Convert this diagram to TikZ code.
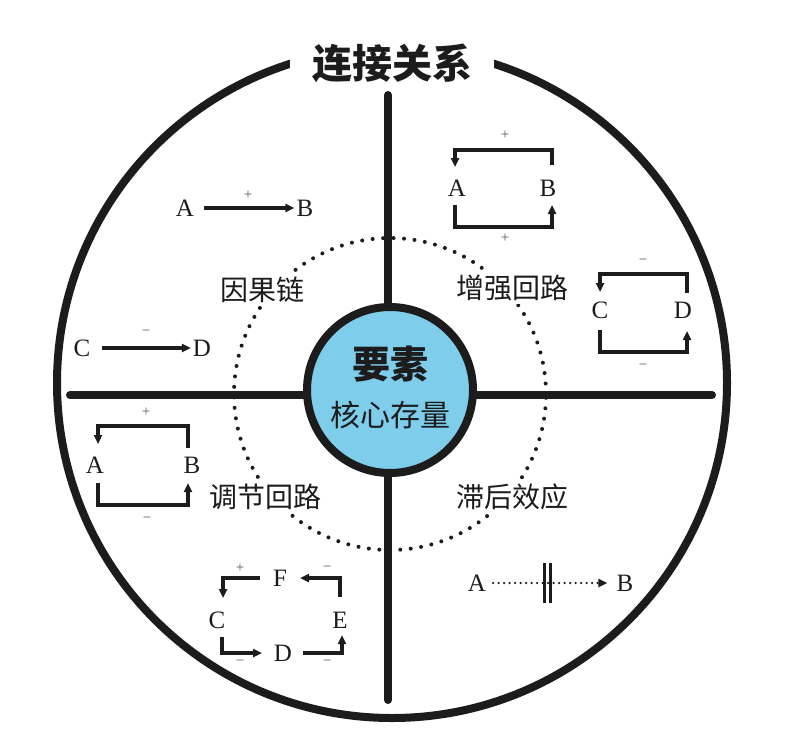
\documentclass[tikz,border=0pt]{standalone}
\usepackage{fontspec}
\setmainfont{Liberation Serif}
\newfontfamily\cjk{Noto Sans CJK SC}
\usetikzlibrary{arrows.meta,calc}
\definecolor{corefill}{RGB}{125,205,235}
\definecolor{ink}{RGB}{28,28,28}
\begin{document}
\begin{tikzpicture}[x=1pt,y=-1pt,
  bigline/.style={line width=8pt, line cap=round, draw=ink},
  lp/.style={line width=3.2pt, draw=ink, -{Triangle[length=9pt,width=8pt]}},
  lbar/.style={line width=3pt, draw=ink},
  letr/.style={inner sep=0pt, font=\fontsize{25}{25}\selectfont, text=ink},
  sgn/.style={inner sep=0pt, font=\fontsize{15}{15}\selectfont, text=black!65},
  qlab/.style={inner sep=3pt, fill=white, font=\cjk\fontsize{28}{28}\selectfont, text=ink},
]
\useasboundingbox (0,0) rectangle (794,736);
\fill[white] (0,0) rectangle (794,736);

% outer circle and title
\node[circle, minimum size=670pt, draw=ink, line width=8pt] (outer) at (392,383) {};
\node[fill=white, inner xsep=22pt, inner ysep=4pt, text=ink,
      font=\cjk\bfseries\fontsize{40}{40}\selectfont] (title) at (392,63) {连接关系};

% dotted circle
\node[circle, minimum size=312pt, draw=ink, line width=4pt, line cap=round,
      dash pattern=on 0pt off 10.5pt] (dots) at (390,394) {};

% cross lines
\coordinate (vt) at (388,95);
\coordinate (vb) at (388,700);
\coordinate (hl) at (70,395);
\coordinate (hr) at (712,395);
\draw[bigline] (vt) -- (vb);
\draw[bigline] (hl) -- (hr);

% core
\node[circle, minimum size=166pt, draw=ink, line width=8pt, fill=corefill] (core) at (390,390) {};
\node[inner sep=0pt, text=ink, font=\cjk\bfseries\fontsize{38}{38}\selectfont] (core1) at (390,364) {要素};
\node[inner sep=0pt, text=ink, font=\cjk\fontsize{30}{30}\selectfont] (core2) at (390,415) {核心存量};

% quadrant labels
\node[qlab] (q1) at (262,290) {因果链};
\node[qlab] (q2) at (512,288) {增强回路};
\node[qlab] (q3) at (265,497) {调节回路};
\node[qlab] (q4) at (512,497) {滞后效应};

% causal chain
\node[letr] (A6) at (185,208) {A};
\node[letr] (B6) at (305,208) {B};
\draw[lp, shorten <=10pt, shorten >=2pt] (A6.east) -- (B6.west);
\node[sgn] (s6) at (248,195) {+};
\node[letr] (C7) at (82,348) {C};
\node[letr] (D7) at (202,348) {D};
\draw[lp, shorten <=11pt, shorten >=2pt] (C7.east) -- (D7.west);
\node[sgn] (s7) at (146,333) {−};

% reinforcing loop 1
\node[letr] (A1) at (457,188) {A};
\node[letr] (B1) at (548,188) {B};
\draw[lp] ($(B1)+(4,-23)$) |- ($(A1)+(-2,-38)$) -- ($(A1)+(-2,-21)$);
\draw[lp] ($(A1)+(-2,17)$) |- ($(B1)+(4,39)$) -- ($(B1)+(4,17)$);
\node[sgn] (s1a) at (505,135) {+};
\node[sgn] (s1b) at (505,238) {+};

% reinforcing loop 2
\node[letr] (C2) at (600,310) {C};
\node[letr] (D2) at (683,310) {D};
\draw[lp] ($(D2)+(4,-17)$) |- ($(C2)+(0,-36)$) -- ($(C2)+(0,-18)$);
\draw[lp] ($(C2)+(0,20)$) |- ($(D2)+(4,42)$) -- ($(D2)+(4,21)$);
\node[sgn] (s2a) at (643,262) {−};
\node[sgn] (s2b) at (643,367) {−};

% balancing loop
\node[letr] (A3) at (95,465) {A};
\node[letr] (B3) at (192,465) {B};
\draw[lp] ($(B3)+(-4,-17)$) |- ($(A3)+(3,-39)$) -- ($(A3)+(3,-21)$);
\draw[lp] ($(A3)+(3,18)$) |- ($(B3)+(-4,40)$) -- ($(B3)+(-4,18)$);
\node[sgn] (s3a) at (146,412) {+};
\node[sgn] (s3b) at (147,520) {−};

% four-node loop
\node[letr] (F4) at (280,578) {F};
\node[letr] (C4) at (217,620) {C};
\node[letr] (E4) at (340,620) {E};
\node[letr] (D4) at (283,653) {D};
\draw[lp] ($(F4)+(-20,0)$) -| ($(C4)+(6,-22)$);
\draw[lp] ($(E4)+(0,-23)$) |- ($(F4)+(20,0)$);
\draw[lp] ($(C4)+(5,17)$) |- ($(D4)+(-21,0)$);
\draw[lp] ($(D4)+(20,0)$) -| ($(E4)+(2,15)$);
\node[sgn] (s4a) at (240,568) {+};
\node[sgn] (s4b) at (327,569) {−};
\node[sgn] (s4c) at (240,663) {−};
\node[sgn] (s4d) at (327,663) {−};

% delay
\node[letr] (A5) at (477,583) {A};
\node[letr] (B5) at (625,583) {B};
\draw[line width=2.5pt, draw=ink, line cap=round, dash pattern=on 0pt off 5.5pt,
      -{Triangle[length=9pt,width=8pt]}, shorten <=7pt, shorten >=9pt] (A5.east) -- (B5.west);
\coordinate (bar1t) at (544,563);
\coordinate (bar1b) at (544,603);
\coordinate (bar2t) at (550,563);
\coordinate (bar2b) at (550,603);
\draw[lbar] (bar1t) -- (bar1b);
\draw[lbar] (bar2t) -- (bar2b);
\end{tikzpicture}
\end{document}
